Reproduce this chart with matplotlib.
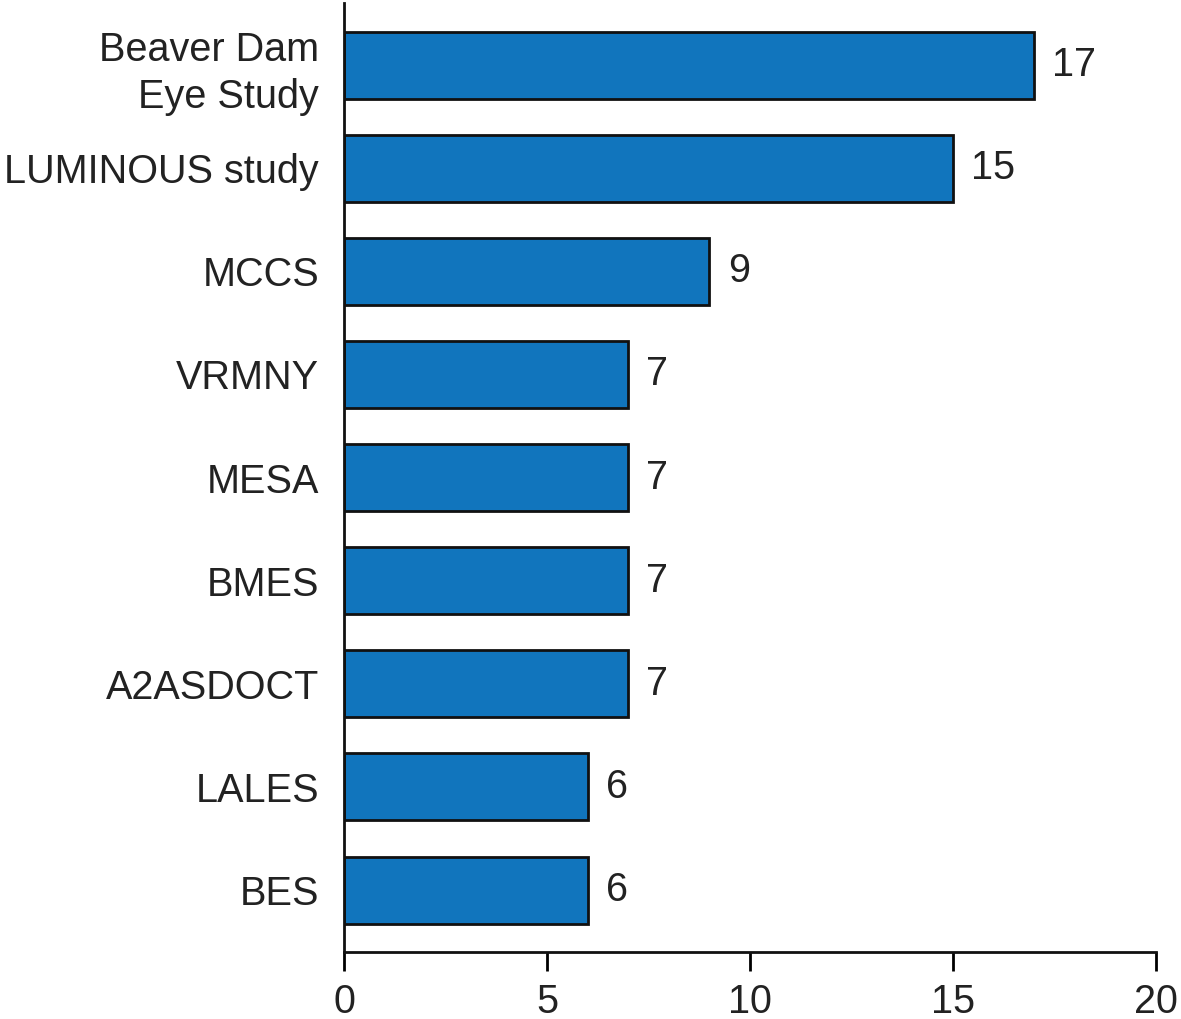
import matplotlib
matplotlib.use('Agg')
import matplotlib.pyplot as plt

studies = ['Beaver Dam\nEye Study', 'LUMINOUS study', 'MCCS', 'VRMNY', 'MESA',
           'BMES', 'A2ASDOCT', 'LALES', 'BES']
counts = [17, 15, 9, 7, 7, 7, 7, 6, 6]

plt.rcParams['font.family'] = ['Liberation Sans', 'DejaVu Sans']

fig = plt.figure(figsize=(11.81, 10.19), dpi=100)
ax = fig.add_axes([0.2913, 0.0658, 0.6875, 0.931])

ypos = list(range(len(studies)))[::-1]
ax.barh(ypos, counts, height=0.65, color='#1175bd', edgecolor='#111111', linewidth=2)

for y, v in zip(ypos, counts):
    ax.text(v + 0.45, y, str(v), va='center', ha='left', fontsize=28.5, color='#222222')

ax.set_xlim(0, 20)
ax.set_ylim(-0.6, 8.6)
ax.set_xticks([0, 5, 10, 15, 20])
ax.set_yticks(ypos)
ax.set_yticklabels(studies, fontsize=28.5, color='#222222', linespacing=1.3)
ax.tick_params(axis='x', labelsize=28.5, length=14, width=2, pad=8, labelcolor='#222222')
ax.tick_params(axis='y', length=0, pad=18)

for s in ['top', 'right']:
    ax.spines[s].set_visible(False)
for s in ['left', 'bottom']:
    ax.spines[s].set_linewidth(2)
    ax.spines[s].set_color('#111111')

fig.savefig('out.png', dpi=100)
